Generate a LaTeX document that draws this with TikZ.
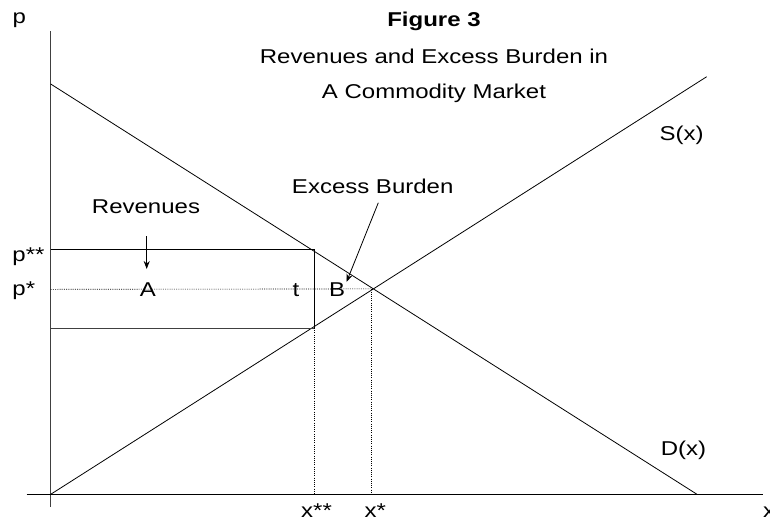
\documentclass[tikz,border=0pt]{standalone}
\usepackage{fontspec}
\setmainfont{Liberation Sans}[FakeStretch=1.2]
\usetikzlibrary{arrows.meta}
\begin{document}
\begin{tikzpicture}[x=1pt,y=-1pt,
  ln/.style={line width=0.8pt,black},
  ax/.style={line width=0.9pt,black!75},
  dot/.style={line width=0.6pt,dash pattern=on 1pt off 1.2pt},
  arr/.style={line width=0.8pt,-{Stealth[length=8pt,width=6pt]}},
  lab/.style={inner sep=0pt,font=\fontsize{20}{24}\selectfont}]
\useasboundingbox (0,0) rectangle (770,523);
% coordinates
\coordinate (O) at (50.7,494.3);
\coordinate (ytop) at (50.7,31);
\coordinate (ybot) at (50.7,506.7);
\coordinate (xl) at (26.7,494.3);
\coordinate (xr) at (762.7,494.3);
\coordinate (D1) at (50.7,84);
\coordinate (D2) at (697,494.3);
\coordinate (S2) at (706.7,76.7);
\coordinate (E) at (373.4,288.9);
\coordinate (Pss) at (50.7,249.5);
\coordinate (Rtr) at (314.3,249.5);
\coordinate (Rbr) at (314.3,328);
\coordinate (Rbl) at (50.7,328);
\coordinate (Ps) at (50.7,289.3);
\coordinate (Xss) at (314.3,494.3);
\coordinate (Xsd) at (371,289.3);
\coordinate (Xs) at (371,494.3);
% axes
\draw[ax] (ytop) -- (ybot);
\draw[ln] (xl) -- (xr);
% demand and supply
\draw[ln] (D1) -- (D2);
\draw[ln] (O) -- (S2);
% rectangle
\draw[ln] (Pss) -- (Rtr) -- (Rbr);
\draw[ax] (Rbl) -- (Rbr);
% dotted
\draw[dot] (Ps) -- (E);
\draw[dot] (Rbr) -- (Xss);
\draw[dot] (Xsd) -- (Xs);
% labels
\node[lab,anchor=base west] (lp) at (12.5,23) {p};
\node[lab,font=\fontsize{20}{24}\selectfont\bfseries] (fig) at (434,21.7) {Figure 3};
\node[lab] (t1) at (434,56.7) {Revenues and Excess Burden in};
\node[lab] (t2) at (434,93) {A Commodity Market};
\node[lab] (sx) at (681.7,135) {S(x)};
\node[lab] (eb) at (372.7,186) {Excess Burden};
\node[lab] (rev) at (146,206.7) {Revenues};
\node[lab,anchor=base] (A) at (148,296.7) {A};
\node[lab,anchor=base] (t) at (296,296.7) {t};
\node[lab,anchor=base] (B) at (337,296.7) {B};
\node[lab,anchor=base west] (pss) at (12.3,261) {p**};
\node[lab,anchor=base west] (ps) at (12.3,295.5) {p*};
\node[lab,anchor=base west] (xss) at (301,517.7) {x**};
\node[lab,anchor=base west] (xs) at (364.3,517.7) {x*};
\node[lab,anchor=base west] (xlab) at (763,517.7) {x};
\node[lab,anchor=base west] (dx) at (660.7,455) {D(x)};
% arrows
\coordinate (ra1) at (146.7,236);
\coordinate (ra2) at (146.7,269);
\draw[arr] (ra1) -- (ra2);
\coordinate (ea1) at (378.3,202.7);
\coordinate (ea2) at (346.5,282);
\draw[arr] (ea1) -- (ea2);
\end{tikzpicture}
\end{document}
